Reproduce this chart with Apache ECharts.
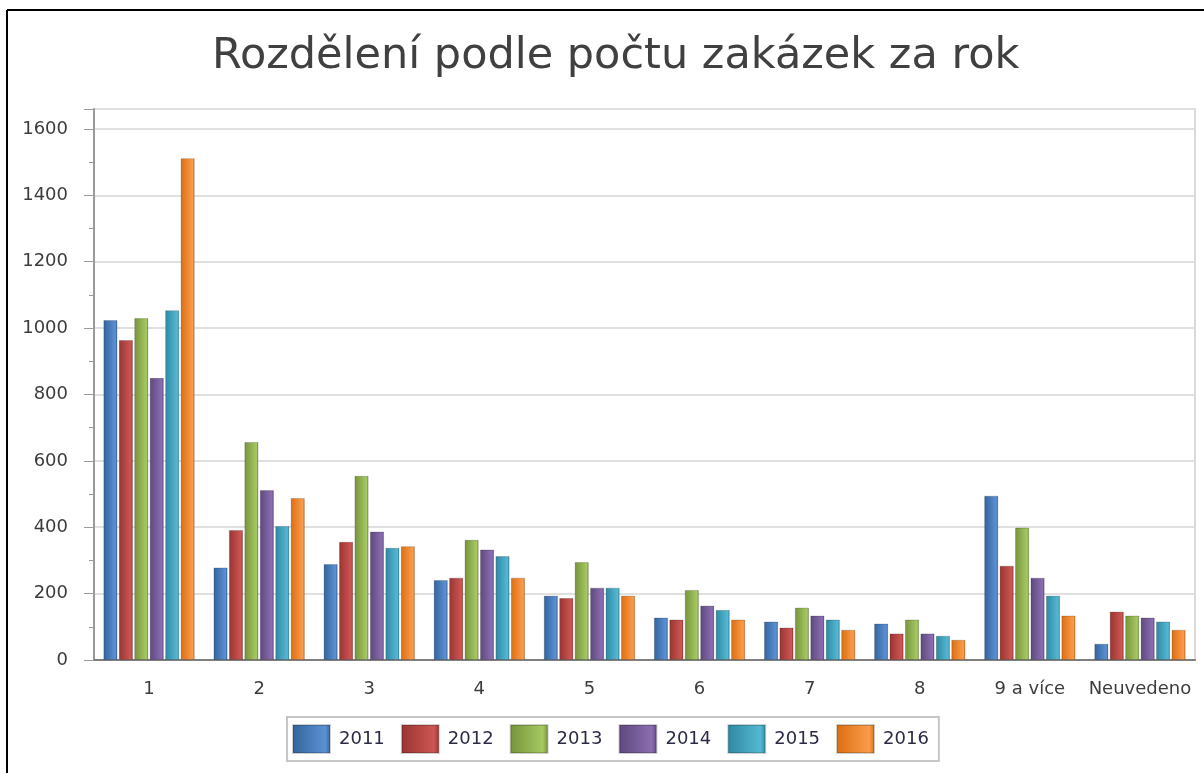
<!DOCTYPE html>
<html>
<head>
<meta charset="utf-8">
<title>Rozdělení podle počtu zakázek za rok</title>
<script src="https://cdn.jsdelivr.net/npm/echarts@6/dist/echarts.min.js"></script>
<style>
  html, body { margin: 0; padding: 0; background: #fff; }
  #chart { width: 1204px; height: 773px; }
</style>
</head>
<body>
<div id="chart"></div>
<script>
// kategorie a roky
var categories = ['1', '2', '3', '4', '5', '6', '7', '8', '9 a více', 'Neuvedeno'];
var years = ['2011', '2012', '2013', '2014', '2015', '2016'];

// hodnoty podle roku
var values2011 = [1024, 279, 289, 241, 194, 128, 116, 110, 495, 49];
var values2012 = [964, 392, 356, 248, 187, 122, 98, 80, 284, 146];
var values2013 = [1030, 657, 555, 362, 295, 211, 158, 122, 399, 134];
var values2014 = [850, 512, 387, 333, 218, 164, 134, 80, 248, 128];
var values2015 = [1054, 404, 338, 313, 218, 151, 122, 73, 194, 116];
var values2016 = [1512, 488, 343, 248, 194, 122, 91, 61, 134, 91];

var allValues = [values2011, values2012, values2013, values2014, values2015, values2016];

// barvy (tmavá / světlá strana sloupce)
var colorPairs = [
    ['#33639c', '#5b90d2'],
    ['#983431', '#cd5653'],
    ['#76923b', '#a6c962'],
    ['#5d487e', '#8b6db0'],
    ['#2e88a1', '#55b8d3'],
    ['#dc6d10', '#fa9c4c']
];

function barColor(pair) {
    return new echarts.graphic.LinearGradient(0, 0, 1, 0, [
        { offset: 0, color: pair[0] },
        { offset: 0.85, color: pair[1] },
        { offset: 1, color: pair[0] }
    ]);
}

// vedlejší značky na ose X (5 na kategorii)
var minorCats = [];
categories.forEach(function () {
    for (var k = 0; k < 5; k++) minorCats.push('');
});

var series = years.map(function (y, i) {
    return {
        name: y,
        type: 'bar',
        xAxisIndex: 0,
        data: allValues[i],
        barCategoryGap: '17%',
        barGap: '9%',
        itemStyle: {
            color: barColor(colorPairs[i]),
            borderColor: 'rgba(0,0,0,0.18)',
            borderWidth: 1
        }
    };
});

var myChart = echarts.init(document.getElementById('chart'));
var option = {
    animation: false,
    backgroundColor: '#fff',
    textStyle: { fontFamily: 'DejaVu Sans' },
    title: {
        text: 'Rozdělení podle počtu zakázek za rok',
        left: 207,
        top: 30,
        textStyle: {
            fontFamily: 'DejaVu Sans',
            fontSize: 43,
            fontWeight: 'normal',
            color: '#404040'
        }
    },
    legend: {
        data: years,
        left: 287,
        top: 717,
        padding: [7, 10, 7, 5],
        itemWidth: 37,
        itemHeight: 28,
        itemGap: 16,
        icon: 'rect',
        borderColor: '#c6c6c6',
        borderWidth: 2,
        textStyle: {
            fontSize: 18,
            color: '#2b2b45',
            padding: [0, 0, 0, 4]
        }
    },
    grid: {
        left: 94,
        right: 9,
        top: 109,
        bottom: 113,
        show: true,
        borderColor: '#dadada',
        borderWidth: 2
    },
    xAxis: [{
        type: 'category',
        data: categories,
        position: 'bottom',
        axisLine: { lineStyle: { color: '#7f7f7f', width: 2 } },
        axisTick: { alignWithLabel: true, length: 10, interval: 0, lineStyle: { color: '#8a8a8a' } },
        axisLabel: { interval: 0, fontSize: 18, color: '#3c3c3c', margin: 20 }
    }, {
        type: 'category',
        data: minorCats,
        position: 'bottom',
        axisLine: { show: false },
        axisTick: { alignWithLabel: true, length: 4, interval: 0, lineStyle: { color: '#8a8a8a' } },
        axisLabel: { show: false },
        splitLine: { show: false }
    }],
    yAxis: {
        type: 'value',
        min: 0,
        max: 1660,
        interval: 200,
        axisLine: { show: true, lineStyle: { color: '#9a9a9a', width: 2 } },
        axisTick: { show: true, length: 10, lineStyle: { color: '#9a9a9a' } },
        minorTick: { show: true, splitNumber: 2, length: 5, lineStyle: { color: '#9a9a9a' } },
        splitLine: { lineStyle: { color: '#e0e0e0', width: 2 } },
        axisLabel: {
            fontSize: 18,
            color: '#3c3c3c',
            margin: 26,
            showMaxLabel: false,
            formatter: function (v) { return String(v); }
        }
    },
    graphic: [{
        type: 'line',
        shape: { x1: 7, y1: 10, x2: 1204, y2: 10 },
        style: { stroke: '#000', lineWidth: 2 }
    }, {
        type: 'line',
        shape: { x1: 7, y1: 10, x2: 7, y2: 773 },
        style: { stroke: '#000', lineWidth: 2 }
    }],
    series: series
};
myChart.setOption(option);
</script>
</body>
</html>
